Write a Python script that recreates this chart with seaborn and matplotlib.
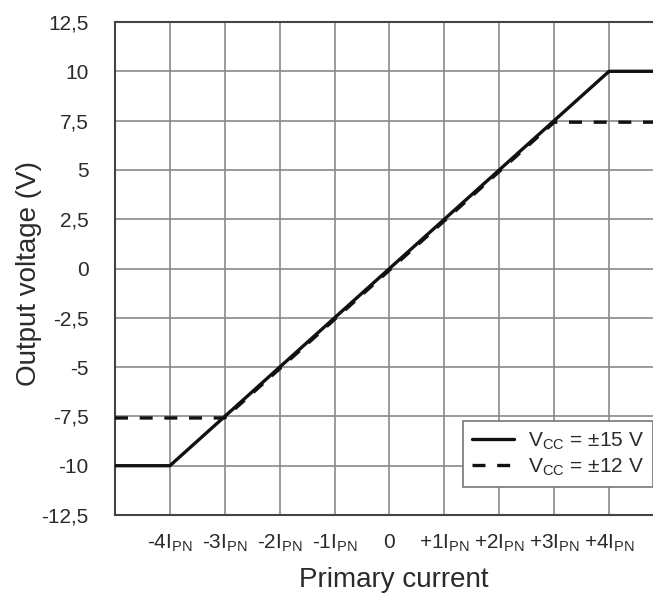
import matplotlib
matplotlib.use("Agg")
import matplotlib.pyplot as plt
import seaborn as sns
import pandas as pd

# data
x_15 = [-5.0, -4.0, 4.0, 4.8]
y_15 = [-10.0, -10.0, 10.0, 10.0]
x_12 = [-5.0, -3.0, 3.0, 4.8]
y_12 = [-7.58, -7.58, 7.42, 7.42]
series_names = ["V$_{CC}$ = ±15 V", "V$_{CC}$ = ±12 V"]
x_ticks = [-4, -3, -2, -1, 0, 1, 2, 3, 4]
x_tick_labels = ["-4I$_{PN}$", "-3I$_{PN}$", "-2I$_{PN}$", "-1I$_{PN}$", "0",
                 "+1I$_{PN}$", "+2I$_{PN}$", "+3I$_{PN}$", "+4I$_{PN}$"]
y_ticks = [-12.5, -10, -7.5, -5, -2.5, 0, 2.5, 5, 7.5, 10, 12.5]
y_tick_labels = ["-12,5", "-10", "-7,5", "-5", "-2,5", "0", "2,5", "5", "7,5", "10", "12,5"]

df = pd.concat([
    pd.DataFrame({"x": x_15, "y": y_15, "s": series_names[0]}),
    pd.DataFrame({"x": x_12, "y": y_12, "s": series_names[1]}),
], ignore_index=True)

sns.set_theme(style="white")
plt.rcParams["font.family"] = ["Liberation Sans", "DejaVu Sans"]
plt.rcParams["mathtext.fontset"] = "custom"
plt.rcParams["mathtext.rm"] = "Liberation Sans"
plt.rcParams["mathtext.it"] = "Liberation Sans"
plt.rcParams["mathtext.default"] = "regular"

text_color = "#2a2a2a"

fig = plt.figure(figsize=(6.53, 5.93), dpi=100)
ax = fig.add_axes([115/653, 78/593, 538/653, 493/593])

sns.lineplot(data=df, x="x", y="y", hue="s", style="s", sort=False,
             palette={series_names[0]: "#111111", series_names[1]: "#111111"},
             dashes={series_names[0]: "", series_names[1]: (3.9, 3.5)},
             linewidth=2.4, ax=ax, legend=True, zorder=3)

ax.set_xlim(-5, 4.8)
ax.set_ylim(-12.5, 12.5)
ax.set_xticks(x_ticks)
ax.set_xticklabels(x_tick_labels)
ax.set_yticks(y_ticks)
ax.set_yticklabels(y_tick_labels)
ax.tick_params(axis="both", length=0, labelsize=15, colors=text_color)
ax.tick_params(axis="y", pad=19)
ax.tick_params(axis="x", pad=13)
ax.grid(True, color="#8a8a8a", linewidth=1.2)
ax.set_axisbelow(True)
for side in ["left", "bottom", "top"]:
    ax.spines[side].set_color("#444444")
    ax.spines[side].set_linewidth(1.5)
ax.spines["right"].set_visible(False)

ax.set_xlabel("")
ax.set_ylabel("")
fig.text(394/653, 1 - 580/593, "Primary current", ha="center", va="center",
         fontsize=20, color=text_color)
fig.text(29/653, 1 - 274/593, "Output voltage (V)", ha="center", va="center",
         rotation=90, fontsize=20, color=text_color)

leg = ax.legend(loc="lower left", bbox_to_anchor=(0.647, 0.057), fontsize=15,
                frameon=True, fancybox=False, shadow=False, framealpha=1,
                edgecolor="#777777", handlelength=2.0, handletextpad=0.65,
                labelspacing=0.2, borderpad=0.45, borderaxespad=0)
leg.get_frame().set_linewidth(1.2)
for t in leg.get_texts():
    t.set_color(text_color)

fig.savefig("out.png", dpi=100)
